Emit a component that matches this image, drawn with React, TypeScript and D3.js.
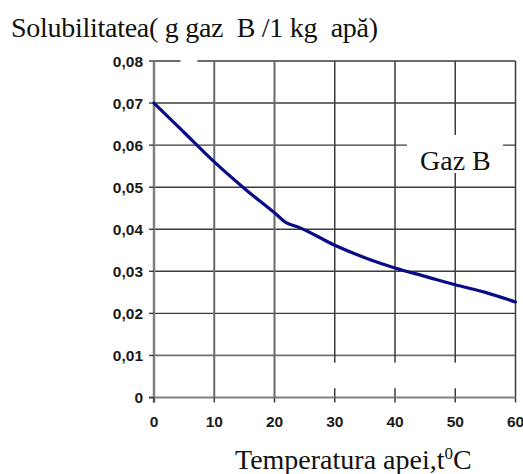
import React from "react";
import * as d3 from "d3";

const temps = [0, 5, 10, 15, 20, 22, 24, 30, 36, 40, 45, 50, 55, 60];
const solubility = [0.07, 0.063, 0.056, 0.0497, 0.0439, 0.0415, 0.0405, 0.0362, 0.0327, 0.0308, 0.0288, 0.0268, 0.025, 0.0227];
const xTicks = [0, 10, 20, 30, 40, 50, 60];
const yTicks = [0, 0.01, 0.02, 0.03, 0.04, 0.05, 0.06, 0.07, 0.08];
const yTickLabels = ["0", "0,01", "0,02", "0,03", "0,04", "0,05", "0,06", "0,07", "0,08"];
const titleText = "Solubilitatea( g gaz  B /1 kg  apă)";
const seriesLabel = "Gaz B";

const W = 523;
const H = 474;

export default function App() {
  const x = d3.scaleLinear().domain([0, 60]).range([154, 515.5]);
  const y = d3.scaleLinear().domain([0, 0.08]).range([397.5, 61]);
  const line = d3
    .line<number>()
    .x((_, i) => x(temps[i]))
    .y((d) => y(d))
    .curve(d3.curveMonotoneX);
  const path = line(solubility) || "";
  const gridColor = "#3c3c3c";
  const axisColor = "#808080";
  const sans = "'Liberation Sans', Arial, sans-serif";
  const serif = "'Liberation Serif', 'Times New Roman', serif";

  return (
    <svg
      width={W}
      height={H}
      style={{ position: "absolute", left: 0, top: 0, background: "#fff" }}
    >
      <rect x={0} y={0} width={W} height={H} fill="#fff" />
      {yTicks.map((t) =>
        t === 0 ? null : (
          <line
            key={"h" + t}
            x1={x(0)}
            x2={x(60)}
            y1={y(t)}
            y2={y(t)}
            stroke={t === 0.01 ? "#707070" : gridColor}
            strokeWidth={t === 0.01 ? 1.8 : 1.4}
          />
        )
      )}
      {xTicks.map((t) =>
        t === 0 ? null : (
          <line
            key={"v" + t}
            x1={x(t)}
            x2={x(t)}
            y1={y(0.08)}
            y2={y(0)}
            stroke={t === 10 || t === 20 ? "#6a6a6a" : gridColor}
            strokeWidth={t === 10 || t === 20 ? 2 : 1.5}
          />
        )
      )}
      <rect x={x(25)} y={y(0.0083)} width={x(58) - x(25)} height={y(0.0022) - y(0.0083)} fill="#fff" />
      <rect x={x(4.4)} y={y(0.0805)} width={x(7.2) - x(4.4)} height={4} fill="#fff" />
      <line x1={x(0)} x2={x(0)} y1={y(0.08)} y2={y(0) + 5} stroke={axisColor} strokeWidth={2.5} />
      <line x1={x(0) - 5} x2={x(60)} y1={y(0)} y2={y(0)} stroke={axisColor} strokeWidth={2.2} />
      {yTicks.map((t) => (
        <line key={"yt" + t} x1={x(0) - 5} x2={x(0)} y1={y(t)} y2={y(t)} stroke={gridColor} strokeWidth={1.4} />
      ))}
      {xTicks.map((t) => (
        <line key={"xt" + t} x1={x(t)} x2={x(t)} y1={y(0)} y2={y(0) + 5} stroke={gridColor} strokeWidth={1.5} />
      ))}
      {yTicks.map((t, i) => (
        <text
          key={"yl" + t}
          x={x(0) - 11}
          y={y(t) + 5.5}
          textAnchor="end"
          fontFamily={sans}
          fontWeight="bold"
          fontSize={15.5}
          fill="#1a1a1a"
        >
          {yTickLabels[i]}
        </text>
      ))}
      {xTicks.map((t) => (
        <text
          key={"xl" + t}
          x={x(t)}
          y={427}
          textAnchor="middle"
          fontFamily={sans}
          fontWeight="bold"
          fontSize={15.5}
          fill="#1a1a1a"
        >
          {t}
        </text>
      ))}
      <path d={path} fill="none" stroke="#0b0b86" strokeWidth={3.2} strokeLinejoin="round" strokeLinecap="round" />
      <rect x={407} y={135} width={96} height={38} fill="#fff" />
      <text x={420} y={170} fontFamily={serif} fontSize={28} fill="#111">
        {seriesLabel}
      </text>
      <text
        x={11}
        y={36.5}
        fontFamily={serif}
        fontSize={28}
        fill="#111"
        textLength={367}
        lengthAdjust="spacing"
        style={{ whiteSpace: "pre" }}
      >
        {titleText}
      </text>
      <text x={235} y={469} fontFamily={serif} fontSize={28} fill="#111">
        Temperatura apei,t
        <tspan fontSize={17} dy={-10}>0</tspan>
        <tspan dy={10}>C</tspan>
      </text>
    </svg>
  );
}
